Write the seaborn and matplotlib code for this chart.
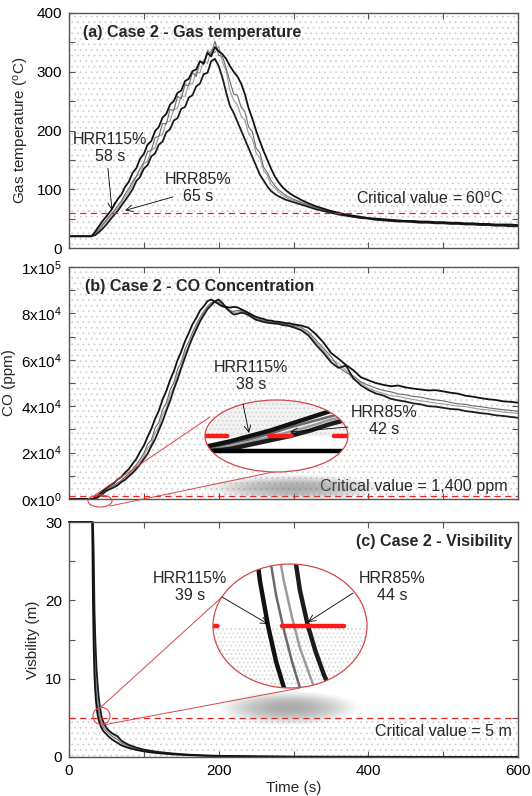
import numpy as np
import pandas as pd
import matplotlib
matplotlib.use('Agg')
import matplotlib.pyplot as plt
import seaborn as sns
from matplotlib.patches import Ellipse
from matplotlib.ticker import MultipleLocator, FuncFormatter

sns.set_theme(style='ticks')
plt.rcParams['font.family'] = ['Liberation Sans', 'DejaVu Sans']
plt.rcParams['mathtext.fontset'] = 'custom'
plt.rcParams['mathtext.rm'] = 'Liberation Sans'
plt.rcParams['hatch.linewidth'] = 0.6

# ---------------- data ----------------
runs = ['D', 'C', 'B', 'A']   # gray runs first, black envelope runs on top

# (a) gas temperature, degC
t_a = [0, 10, 20, 30] + list(range(35, 301, 5)) + list(range(310, 601, 10))
temp_A = [20, 20, 20, 20,
          28, 37, 46, 54, 62, 72, 83, 91, 104, 113,
          128, 136, 152, 160, 176, 182, 199, 206, 222, 228,
          244, 250, 264, 268, 284, 288, 301, 304, 318, 314,
          332, 326, 342, 335, 330, 322, 310, 300, 292, 280,
          262, 238, 220, 200, 182, 165, 150, 135, 122, 112,
          104, 98, 93, 89,
          82, 76, 71, 67, 63, 60, 57, 55, 53, 51,
          50, 49, 48, 47, 46, 46, 45, 45, 44, 44,
          43, 43, 42, 42, 41, 41, 40, 40, 40, 39]
temp_B = [20, 20, 20, 20,
          22, 27, 33, 40, 48, 56, 63, 72, 81, 90,
          100, 114, 121, 135, 141, 156, 161, 176, 181, 197,
          202, 217, 221, 237, 240, 256, 260, 275, 280, 296,
          298, 318, 322, 310, 290, 265, 242, 230, 215, 200,
          185, 170, 155, 140, 125, 115, 105, 97, 92, 88,
          85, 82, 80, 78,
          74, 70, 66, 63, 60, 57, 55, 53, 51, 50,
          48, 47, 46, 45, 45, 44, 43, 43, 42, 42,
          41, 41, 40, 40, 39, 39, 38, 38, 37, 37]
temp_C = [20, 20, 20, 20,
          25, 32, 40, 48, 56, 63, 72, 80, 92, 101,
          113, 122, 135, 146, 164, 166, 188, 190, 212, 211,
          236, 234, 258, 254, 278, 276, 299, 292, 318, 312,
          336, 330, 352, 328, 326, 306, 284, 262, 260, 240,
          232, 206, 198, 170, 162, 138, 128, 115, 106, 99,
          94, 89, 86, 83,
          78, 73, 69, 65, 62, 59, 56, 54, 52, 50,
          49, 48, 47, 46, 45, 45, 44, 44, 43, 43,
          42, 42, 41, 41, 40, 40, 39, 39, 39, 38]
temp_D = [20, 20, 20, 20,
          24, 30, 38, 45, 53, 61, 68, 77, 87, 96,
          108, 122, 126, 144, 148, 168, 170, 191, 193, 214,
          216, 236, 238, 259, 258, 280, 279, 300, 298, 320,
          314, 338, 332, 344, 316, 302, 268, 252, 244, 224,
          218, 194, 186, 162, 153, 132, 124, 108, 102, 95,
          90, 86, 83, 81,
          77, 72, 68, 64, 61, 58, 56, 54, 52, 50,
          49, 48, 47, 46, 45, 45, 44, 44, 43, 43,
          42, 42, 41, 41, 40, 40, 39, 39, 38, 38]

# (b) CO concentration, ppm
t_b = [0, 10, 20, 30] + list(range(32, 51, 2)) + list(range(55, 301, 5)) + list(range(310, 601, 10))
co_A = [0, 0, 0, 0,
        100, 500, 900, 1400, 1900, 2500, 3100, 3700, 4200, 4700,
        5900, 6900, 8400, 9500, 11400, 12900, 15200, 17300, 20400, 23000,
        26800, 30200, 34600, 38000, 42800, 46500, 51200, 55000, 59800, 63500,
        68000, 71500, 75300, 78000, 81200, 83000, 85300, 86000, 85000, 84000,
        83000, 82800, 82500, 82800, 82600, 81800, 81000, 80200, 79300, 78500,
        78000, 77600, 77000, 76900, 76500, 76400, 76100, 75800, 75700, 75300,
        74800, 73800, 71000, 67500, 63000, 60500, 57800, 55500, 52500, 51200,
        50000, 49200, 48600, 48900, 48100, 47600, 47200, 46800, 46900, 46400,
        45800, 45400, 44500, 44100, 43500, 43000, 42700, 42100, 41900, 41500]
co_B = [0, 0, 0, 0,
        0, 0, 200, 600, 1000, 1400, 1900, 2500, 3000, 3500,
        4300, 5000, 5900, 7300, 8300, 9800, 11200, 13000, 14900, 17200,
        19500, 22800, 25700, 29600, 33400, 38000, 42200, 47200, 51500, 56500,
        61000, 65500, 69500, 73000, 76500, 79200, 81800, 83500, 85200, 86000,
        84500, 82500, 80800, 79500, 79800, 80300, 80000, 79200, 78200, 77200,
        76800, 76300, 76000, 75800, 75600, 75500, 75000, 74800, 74500, 74000,
        72800, 70500, 66500, 63000, 59000, 56500, 57500, 52000, 49000, 47000,
        45500, 44600, 43200, 42500, 42000, 41200, 40800, 40000, 39800, 39300,
        38800, 38600, 37900, 37500, 37000, 36700, 36100, 35800, 35400, 35000]
co_C = [0, 0, 0, 0,
        50, 300, 700, 1100, 1600, 2200, 2700, 3200, 3700, 4100,
        5100, 6000, 6900, 8000, 9500, 10900, 12800, 14800, 17200, 19700,
        23600, 25400, 30600, 33000, 38400, 41300, 47000, 50100, 55800, 59000,
        64600, 67800, 71800, 75200, 78200, 80800, 83000, 84600, 85000, 84800,
        83600, 82000, 81000, 80800, 81300, 81200, 80500, 79800, 78800, 77800,
        77300, 77000, 76400, 76300, 76000, 75900, 75600, 75300, 75000, 74800,
        74000, 72000, 68500, 65000, 61500, 57000, 54500, 53000, 50500, 49000,
        47800, 46800, 46200, 45300, 44900, 44200, 43900, 43200, 42700, 42300,
        41600, 41000, 40800, 40100, 39800, 39300, 38900, 38500, 38200, 37800]
co_D = [0, 0, 0, 0,
        0, 150, 450, 850, 1300, 1800, 2300, 2900, 3300, 3800,
        4800, 5600, 6400, 7600, 8900, 10300, 12000, 13900, 16000, 18500,
        21900, 23600, 28600, 30800, 36400, 39000, 45100, 47900, 53900, 56800,
        62900, 65700, 70300, 74000, 77200, 80000, 82300, 84000, 85300, 85400,
        84200, 82600, 81300, 80400, 80600, 80900, 80600, 79600, 78600, 77600,
        77100, 76600, 76200, 76000, 75800, 75600, 75300, 75000, 74700, 74300,
        73300, 71200, 67500, 64000, 60000, 58500, 55500, 51500, 50000, 47800,
        46500, 45500, 44500, 44200, 43500, 42900, 42300, 41900, 41300, 41000,
        40500, 40000, 39800, 39200, 38700, 38400, 38000, 37500, 37200, 36900]

# (c) visibility, m
t_c = [0, 10, 20, 30, 31, 32, 33, 34, 35, 36, 37, 38, 39, 40, 41, 42, 43, 44, 45, 46, 47, 48,
       50, 52, 55, 58, 60, 63, 65, 68, 70, 75, 80, 90, 100, 110, 120, 140, 160, 180, 200,
       250, 300, 400, 500, 600]
vis_A = [30, 30, 30, 30, 30, 20, 14, 10.5, 8.5, 7.2, 6.2, 5.5, 5.0, 4.6, 4.3, 4.0, 3.8, 3.6, 3.45, 3.3, 3.2, 3.1,
         2.9, 2.7, 2.45, 2.2, 2.1, 1.9, 1.8, 1.6, 1.5, 1.3, 1.15, 0.9, 0.72, 0.58, 0.48, 0.33, 0.23, 0.16, 0.12,
         0.06, 0.03, 0.02, 0.01, 0.01]
vis_B = [30, 30, 30, 30, 30, 30, 26, 19, 15.5, 13, 11, 9.6, 8.4, 7.4, 6.6, 6.0, 5.4, 5.0, 4.7, 4.45, 4.25, 4.05,
         3.75, 3.5, 3.25, 3.0, 2.9, 2.75, 2.65, 2.3, 2.1, 1.8, 1.55, 1.2, 0.95, 0.78, 0.64, 0.44, 0.3, 0.21, 0.15,
         0.08, 0.04, 0.02, 0.01, 0.01]
vis_C = [30, 30, 30, 30, 30, 24, 17, 13, 10.5, 8.8, 7.6, 6.6, 5.9, 5.35, 4.95, 4.6, 4.3, 4.1, 3.9, 3.75, 3.6, 3.5,
         3.3, 3.1, 2.85, 2.6, 2.5, 2.35, 2.2, 1.95, 1.8, 1.55, 1.35, 1.05, 0.83, 0.68, 0.56, 0.38, 0.26, 0.18, 0.13,
         0.07, 0.035, 0.02, 0.01, 0.01]
vis_D = [30, 30, 30, 30, 30, 27, 21, 15.5, 12.2, 10, 8.6, 7.4, 6.6, 6.0, 5.5, 5.1, 4.75, 4.5, 4.25, 4.05, 3.9, 3.8,
         3.55, 3.35, 3.1, 2.85, 2.75, 2.6, 2.5, 2.2, 2.0, 1.7, 1.45, 1.12, 0.9, 0.73, 0.6, 0.41, 0.28, 0.2, 0.14,
         0.075, 0.04, 0.02, 0.01, 0.01]

crit_temp = 60
crit_co = 1400
crit_vis = 5


def long_df(t, series):
    return pd.DataFrame({'t': np.tile(t, len(series)),
                         'v': np.concatenate([np.asarray(s, float) for s in series.values()]),
                         'run': np.repeat(list(series.keys()), len(t))})


df_a = long_df(t_a, {'A': temp_A, 'B': temp_B, 'C': temp_C, 'D': temp_D})
df_b = long_df(t_b, {'A': co_A, 'B': co_B, 'C': co_C, 'D': co_D})
df_c = long_df(t_c, {'A': vis_A, 'B': vis_B, 'C': vis_C, 'D': vis_D})

pal = {'A': '#111111', 'B': '#1c1c1c', 'C': '#6a6a6a', 'D': '#9c9c9c'}
sizes_main = {'A': 1.3, 'B': 1.3, 'C': 0.8, 'D': 0.8}
sizes_zoom = {'A': 3.2, 'B': 3.2, 'C': 1.8, 'D': 1.8}

# ---------------- figure ----------------
W, H = 532, 796
fig = plt.figure(figsize=(W / 100, H / 100), dpi=100)
RED = '#f02020'
ERED = '#d24848'
DOTS = '#d0d0d0'


def add_px_axes(x0, y0, x1, y1):
    return fig.add_axes([x0 / W, 1 - y1 / H, (x1 - x0) / W, (y1 - y0) / H])


def draw_runs(ax, df, sizes):
    sns.lineplot(data=df, x='t', y='v', hue='run', hue_order=runs, palette=pal,
                 size='run', size_order=runs, sizes=sizes, estimator=None,
                 sort=False, legend=False, ax=ax)


def style_axes(ax, ymaj, ymin, ylim):
    ax.set_xlim(0, 600)
    ax.set_ylim(*ylim)
    ax.xaxis.set_major_locator(MultipleLocator(200))
    ax.xaxis.set_minor_locator(MultipleLocator(100))
    ax.yaxis.set_major_locator(MultipleLocator(ymaj))
    ax.yaxis.set_minor_locator(MultipleLocator(ymin))
    ax.tick_params(which='both', direction='in', length=4, width=0.8, color='#555555',
                   top=True, right=True, labelsize=11, labelcolor='black', pad=5)
    for s in ax.spines.values():
        s.set_color('#555555')
        s.set_linewidth(1.0)
    ax.set_xlabel('')


ax_a = add_px_axes(69, 13, 518, 248)
ax_b = add_px_axes(69, 267, 518, 499)
ax_c = add_px_axes(69, 522, 518, 757)

# (a)
ax_a.axhspan(0, 400, fill=False, hatch='...', edgecolor=DOTS, lw=0, zorder=0)
draw_runs(ax_a, df_a, sizes_main)
ax_a.axhline(crit_temp, color=RED, lw=0.9, dashes=(5, 3.5), zorder=4)
style_axes(ax_a, 100, 50, (0, 400))
ax_a.tick_params(labelbottom=False)
ax_a.set_ylabel(r'Gas temperature ($\mathregular{^o}$C)', fontsize=11)
ax_a.text(0.031, 0.919, '(a) Case 2 - Gas temperature', transform=ax_a.transAxes,
          fontsize=11.6, fontweight='bold', va='center', ha='left')
ax_a.text(0.967, 0.209, r'Critical value = 60$\mathregular{^o}$C', transform=ax_a.transAxes,
          fontsize=11.5, va='center', ha='right')
ax_a.annotate('', xy=(57.5, 64), xytext=(52, 136),
              arrowprops=dict(arrowstyle='->', lw=0.6, color='black', shrinkA=0, shrinkB=0))
ax_a.annotate('', xy=(75, 64), xytext=(139, 87),
              arrowprops=dict(arrowstyle='->', lw=0.6, color='black', shrinkA=0, shrinkB=0))
ax_a.text(55, 170, 'HRR115%\n58 s', ha='center', va='center', fontsize=11.5, linespacing=1.15)
ax_a.text(172, 102, 'HRR85%\n65 s', ha='center', va='center', fontsize=11.5, linespacing=1.15)


# (b)
def sci_fmt(v, pos):
    if v <= 0:
        return r'$\mathregular{0x10^{0}}$'
    e = int(np.floor(np.log10(v) + 1e-9))
    m = int(round(v / 10 ** e))
    return r'$\mathregular{%dx10^{%d}}$' % (m, e)


ax_b.axhspan(0, 100000, fill=False, hatch='...', edgecolor=DOTS, lw=0, zorder=0)
draw_runs(ax_b, df_b, sizes_main)
ax_b.axhline(crit_co, color=RED, lw=0.9, dashes=(5, 3.5), zorder=4)
style_axes(ax_b, 20000, 10000, (0, 100000))
ax_b.yaxis.set_major_formatter(FuncFormatter(sci_fmt))
ax_b.tick_params(labelbottom=False)
ax_b.set_ylabel('CO (ppm)', fontsize=11)
ax_b.text(0.036, 0.914, '(b) Case 2 - CO Concentration', transform=ax_b.transAxes,
          fontsize=11.6, fontweight='bold', va='center', ha='left')
ax_b.text(0.978, 0.052, 'Critical value = 1,400 ppm', transform=ax_b.transAxes,
          fontsize=11.6, va='center', ha='right')

# (c)
ax_c.axhspan(0, crit_vis, fill=False, hatch='...', edgecolor=DOTS, lw=0, zorder=0)
draw_runs(ax_c, df_c, sizes_main)
for ln in ax_c.lines:
    ln.set_clip_on(False)
ax_c.axhline(crit_vis, color=RED, lw=0.9, dashes=(5, 3.5), zorder=4)
style_axes(ax_c, 10, 5, (0, 30))
ax_c.set_xticks([0, 200, 400, 600])
ax_c.set_xlabel('Time (s)', fontsize=11, labelpad=2)
ax_c.set_ylabel('Visbility (m)', fontsize=11)
ax_c.text(0.987, 0.919, '(c) Case 2 - Visibility', transform=ax_c.transAxes,
          fontsize=11.6, fontweight='bold', va='center', ha='right')
ax_c.text(0.987, 0.11, 'Critical value = 5 m', transform=ax_c.transAxes,
          fontsize=11.5, va='center', ha='right')

# ---------------- magnifier decorations (pixel overlay) ----------------
under = fig.add_axes([0, 0, 1, 1])
under.axis('off')


def shadow(ax, x0, x1, y0, y1):
    gx = np.linspace(-1, 1, 160)[None, :]
    gy = np.linspace(-1, 1, 40)[:, None]
    a = np.clip(1 - (gx ** 2 + gy ** 2), 0, 1) ** 1.3 * 0.6
    img = np.zeros((40, 160, 4))
    img[..., :3] = 0.45
    img[..., 3] = a
    ax.imshow(img, extent=(x0, x1, y1, y0), aspect='auto', interpolation='bilinear', zorder=1)


shadow(under, 200, 390, 474, 502)
shadow(under, 215, 362, 690, 726)
for (xa, ya, xb, yb) in [(95, 495, 210, 417), (110, 506, 283, 470),
                         (100, 708, 222, 597), (103, 725, 300, 688)]:
    under.plot([xa, xb], [ya, yb], color=ERED, lw=0.7, zorder=2)
under.add_patch(Ellipse((100, 501), 24, 12, fill=False, ec=ERED, lw=0.8, zorder=3))
under.add_patch(Ellipse((101.5, 716), 17, 17, fill=False, ec=ERED, lw=0.8, zorder=3))
under.set_xlim(0, W)
under.set_ylim(H, 0)


def zoom_inset(bbox, df, xlim, ylim, crit, dotted_above, red_ls, baseline):
    ia = add_px_axes(*bbox)
    ia.axis('off')
    bg = Ellipse((0.5, 0.5), 1, 1, transform=ia.transAxes, fc='white', ec='none', zorder=0)
    ia.add_patch(bg)
    if dotted_above:
        ia.axhspan(crit, ylim[1], facecolor='#f2f2f2', hatch='....', edgecolor=DOTS, lw=0, zorder=1)
    else:
        ia.axhspan(ylim[0], crit, facecolor='white', hatch='....', edgecolor=DOTS, lw=0, zorder=1)
    draw_runs(ia, df, sizes_zoom)
    if baseline:
        ia.axhline(0, color='black', lw=3.2, zorder=3)
    ia.axhline(crit, color='#ff1a1a', lw=3.2, linestyle=red_ls, dash_capstyle='round', zorder=4)
    ia.set_xlim(*xlim)
    ia.set_ylim(*ylim)
    for art in ia.lines + ia.collections + ia.patches[1:]:
        art.set_clip_path(bg)
    ia.add_patch(Ellipse((0.5, 0.5), 1, 1, transform=ia.transAxes, fill=False,
                         ec=ERED, lw=0.9, zorder=10, clip_on=False))
    return ia


zoom_inset((205, 400, 348, 472), df_b, (33.5, 47.8), (-1933, 4733), crit_co,
           True, (0, (5, 9.5)), True)
zoom_inset((213, 564, 367, 688), df_c, (32.1, 51.4), (4.3, 5.7), crit_vis,
           False, (13.0, (14, 14.5)), False)

# ---------------- annotation text / arrows (pixel overlay) ----------------
top = fig.add_axes([0, 0, 1, 1])
top.axis('off')
top.set_xlim(0, W)
top.set_ylim(H, 0)
arrow = dict(arrowstyle='->', lw=0.6, color='black', shrinkA=0, shrinkB=0)
for (txt, tx, ty, x0, y0, x1, y1) in [
        ('HRR115%\n38 s', 251, 376, 243, 404, 249, 433),
        ('HRR85%\n42 s', 384, 421, 348, 427, 290, 432),
        ('HRR115%\n39 s', 190, 587, 222, 597, 268, 624),
        ('HRR85%\n44 s', 392, 587, 353, 593, 308, 622)]:
    top.text(tx, ty, txt, ha='center', va='center', fontsize=11.5, linespacing=1.15)
    top.annotate('', xy=(x1, y1), xytext=(x0, y0), arrowprops=arrow)

fig.savefig('out.png', dpi=100)
